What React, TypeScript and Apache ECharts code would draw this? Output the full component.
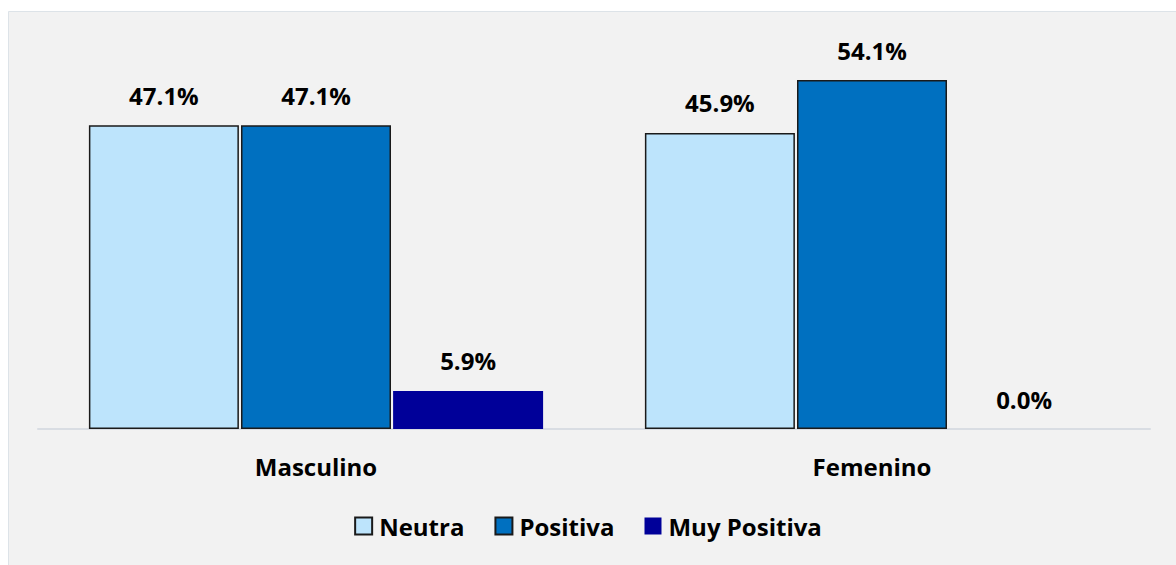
import React, { useEffect, useRef } from "react";
import * as echarts from "echarts";

const categories = ["Masculino", "Femenino"];
const seriesNames = ["Neutra", "Positiva", "Muy Positiva"];
const neutra = [47.1, 45.9];
const positiva = [47.1, 54.1];
const muyPositiva = [5.9, 0.0];
const colors = ["#bde4fc", "#0070c0", "#000099"];

const FONT = "'Open Sans', sans-serif";

export default function App() {
  const ref = useRef<HTMLDivElement>(null);
  useEffect(() => {
    if (!ref.current) return;
    const chart = echarts.init(ref.current, undefined, { renderer: "svg" });
    const values = [neutra, positiva, muyPositiva];
    const bordered = [true, true, false];
    chart.setOption({
      animation: false,
      backgroundColor: "#ffffff",
      textStyle: { fontFamily: FONT },
      graphic: [
        {
          type: "rect",
          silent: true,
          z: -10,
          shape: { x: 8.5, y: 11.5, width: 1200, height: 600 },
          style: { fill: "#f2f2f2", stroke: "#dde3e8", lineWidth: 1 },
        },
      ],
      grid: { left: 38, right: 26, top: 42, bottom: 136, containLabel: false },
      legend: {
        bottom: 22,
        left: "center",
        icon: "rect",
        itemWidth: 17,
        itemHeight: 17,
        itemGap: 30,
        textStyle: { fontFamily: FONT, fontWeight: "bold", fontSize: 24, color: "#000", padding: [0, 0, 0, 2] },
        data: seriesNames,
      },
      xAxis: {
        type: "category",
        data: categories,
        axisLine: { lineStyle: { color: "#d9dde3", width: 2 } },
        axisTick: { show: false },
        axisLabel: {
          fontFamily: FONT,
          fontWeight: "bold",
          fontSize: 24,
          color: "#000",
          margin: 25,
        },
      },
      yAxis: {
        type: "value",
        min: 0,
        max: 60,
        show: false,
        splitLine: { show: false },
      },
      series: seriesNames.map((name, i) => ({
        name,
        type: "bar",
        data: values[i],
        barWidth: 150,
        barGap: "1.4%",
        itemStyle: {
          color: colors[i],
          borderColor: bordered[i] ? "#1a1a1a" : colors[i],
          borderWidth: bordered[i] ? 1.5 : 0,
        },
        label: {
          show: true,
          position: "top",
          distance: 18,
          fontFamily: FONT,
          fontWeight: "bold",
          fontSize: 24,
          color: "#000",
          formatter: (p: any) => Number(p.value).toFixed(1) + "%",
        },
      })),
    });
    return () => chart.dispose();
  }, []);
  return (
    <div
      ref={ref}
      style={{ position: "fixed", left: 0, top: 0, width: 1176, height: 565 }}
    />
  );
}
